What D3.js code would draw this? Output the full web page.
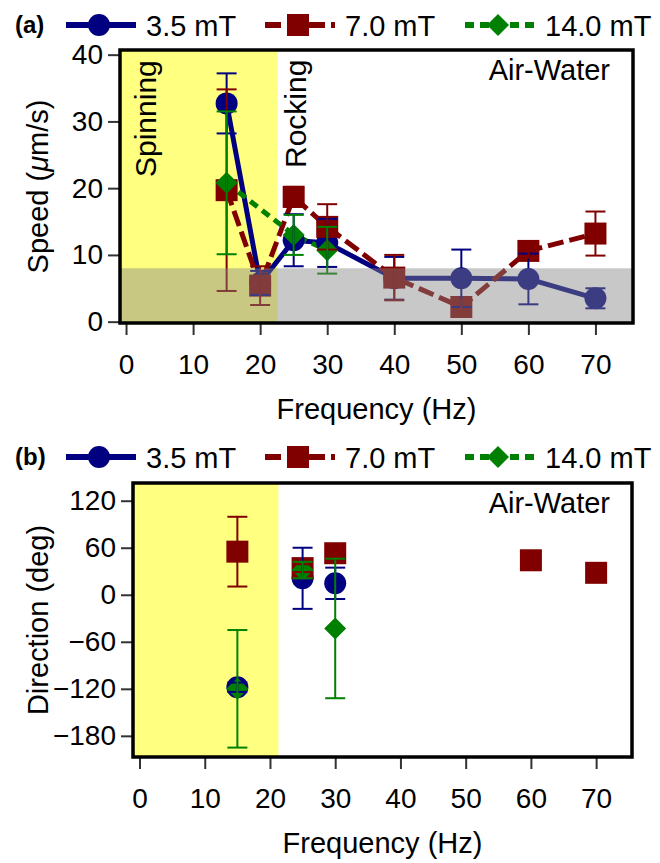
<!DOCTYPE html>
<html>
<head>
<meta charset="utf-8">
<script src="https://cdn.jsdelivr.net/npm/d3@7"></script>
<style>
  body { margin: 0; background: #fff; }
  svg { display: block; }
  .tick line { stroke: #333; stroke-width: 2; }
</style>
</head>
<body>
<div id="chart"></div>
<script>
// Panel (a): speed vs frequency
const freqA = [15, 20, 25, 30, 40, 50, 60, 70];
const speed35 = [32.7, 5.8, 12.2, 11.8, 6.5, 6.5, 6.4, 3.5];
const speed35Err = [4.5, 1.8, 3.9, 3.6, 3.2, 4.3, 3.8, 1.5];
const speed70 = [19.7, 5.4, 18.7, 14.2, 6.6, 2.2, 10.6, 13.2];
const speed70Err = [15.1, 2.9, 1.5, 3.4, 3.4, 1.0, 1.0, 3.3];
const freqA140 = [15, 25, 30];
const speed140 = [20.8, 13.0, 10.7];
const speed140Err = [10.7, 3.0, 3.5];

// Panel (b): direction vs frequency
const freqB35 = [15, 25, 30];
const dir35 = [-118, 21, 14.6];
const dir35Err = [6, 39, 20];
const freqB70 = [15, 25, 30, 60, 70];
const dir70 = [55, 34, 53, 44, 28];
const dir70Err = [44.5, 5, 5, 4, 4];
const freqB140 = [15, 25, 30];
const dir140 = [-120, 31.5, -43];
const dir140Err = [75, 10.5, 89];

const xTicks = [0, 10, 20, 30, 40, 50, 60, 70];
const yTicksA = [0, 10, 20, 30, 40];
const yTicksB = [-180, -120, -60, 0, 60, 120];
const seriesNames = ['3.5 mT', '7.0 mT', '14.0 mT'];

const colors = ['#000080', '#800000', '#008000'];
const dashes = [null, '16,6', '9,6'];
const font = '"Liberation Sans", Arial, sans-serif';

const svg = d3.select('#chart').append('svg')
    .attr('width', 660)
    .attr('height', 863)
    .style('font-family', font);

function zip(xs, ys, es) {
    return xs.map((x, i) => ({ x: x, y: ys[i], e: es[i] }));
}

function marker(g, k, x, y) {
    if (k === 0) {
        g.append('circle').attr('cx', x).attr('cy', y).attr('r', 11).attr('fill', colors[0]);
    } else if (k === 1) {
        g.append('rect').attr('x', x - 11).attr('y', y - 11).attr('width', 22).attr('height', 22).attr('fill', colors[1]);
    } else {
        g.append('path').attr('transform', `translate(${x},${y})`)
            .attr('d', 'M0,-11L11,0L0,11L-11,0Z').attr('fill', colors[2]);
    }
}

function legend(oy, label) {
    const g = svg.append('g').attr('transform', `translate(0,${oy})`);
    g.append('text').attr('x', 15).attr('y', 33)
        .attr('font-weight', 'bold').attr('font-size', 24)
        .text(label);
    const starts = [66, 265, 465];
    starts.forEach((sx, k) => {
        g.append('line').attr('x1', sx).attr('x2', sx + 70).attr('y1', 25).attr('y2', 25)
            .attr('stroke', colors[k]).attr('stroke-width', 6)
            .attr('stroke-dasharray', dashes[k]);
        marker(g, k, sx + 33, 25);
        g.append('text').attr('x', sx + 80).attr('y', 36)
            .attr('font-size', 29)
            .text(seriesNames[k]);
    });
}

function panel(opts) {
    const { x, y, series, lines, yTicks, yellowTo, grayTo, yTitle } = opts;
    const [left, right] = x.range();
    const [bottom, top] = y.range();
    const g = svg.append('g');

    g.append('rect').attr('x', left).attr('y', top)
        .attr('width', x(yellowTo) - left).attr('height', bottom - top)
        .attr('fill', '#ffff80');

    // lines
    if (lines) {
        series.forEach((s, k) => {
            g.append('path').datum(s)
                .attr('fill', 'none')
                .attr('stroke', colors[k])
                .attr('stroke-width', 5)
                .attr('stroke-dasharray', dashes[k])
                .attr('d', d3.line().x(d => x(d.x)).y(d => y(d.y)));
        });
    }
    // markers
    series.forEach((s, k) => {
        s.forEach(d => marker(g, k, x(d.x), y(d.y)));
    });
    // error bars
    series.forEach((s, k) => {
        const eb = g.append('g').attr('stroke', colors[k]).attr('stroke-width', 2);
        s.forEach(d => {
            const cx = x(d.x);
            eb.append('line').attr('x1', cx).attr('x2', cx)
                .attr('y1', y(d.y + d.e)).attr('y2', y(d.y - d.e));
            [d.y + d.e, d.y - d.e].forEach(v => {
                eb.append('line').attr('x1', cx - 10).attr('x2', cx + 10)
                    .attr('y1', y(v)).attr('y2', y(v));
            });
        });
    });

    if (grayTo !== null) {
        g.append('rect').attr('x', left).attr('y', y(grayTo))
            .attr('width', right - left).attr('height', bottom - y(grayTo))
            .attr('fill', '#858585').attr('fill-opacity', 0.45);
    }

    // axes
    g.append('g').attr('transform', `translate(${left},0)`)
        .call(d3.axisLeft(y).tickValues(yTicks).tickSize(12).tickPadding(5)
            .tickFormat(d => d < 0 ? '\u2212' + Math.abs(d) : d))
        .call(a => a.select('.domain').remove());
    g.append('g').attr('transform', `translate(0,${bottom})`)
        .call(d3.axisBottom(x).tickValues(xTicks).tickSize(12).tickPadding(19))
        .call(a => a.select('.domain').remove());
    g.selectAll('.tick text').attr('font-family', font).attr('font-size', 28).attr('fill', '#000');

    g.append('rect').attr('x', left).attr('y', top)
        .attr('width', right - left).attr('height', bottom - top)
        .attr('fill', 'none').attr('stroke', '#000').attr('stroke-width', 3.5);

    g.append('text').attr('x', 610).attr('y', top + 30)
        .attr('text-anchor', 'end')
        .attr('font-size', 29)
        .text('Air-Water');

    g.append('text').attr('x', (left + right) / 2).attr('y', bottom + 96)
        .attr('text-anchor', 'middle')
        .attr('font-size', 29)
        .text('Frequency (Hz)');

    const yt = g.append('text')
        .attr('transform', `translate(48,${(top + bottom) / 2}) rotate(-90)`)
        .attr('text-anchor', 'middle')
        .attr('font-size', 29);
    yTitle(yt);
    return g;
}

legend(0, '(a)');
const xA = d3.scaleLinear().domain([-0.9, 75.6]).range([120, 633]);
const yA = d3.scaleLinear().domain([-0.2, 40.7]).range([323, 50]);
const gA = panel({
    x: xA, y: yA,
    series: [zip(freqA, speed35, speed35Err), zip(freqA, speed70, speed70Err), zip(freqA140, speed140, speed140Err)],
    lines: true, yTicks: yTicksA, yellowTo: 22.6, grayTo: 8,
    yTitle: t => {
        t.append('tspan').text('Speed (');
        t.append('tspan').attr('font-style', 'italic').text('\u03bc');
        t.append('tspan').text('m/s)');
    }
});
gA.append('text').attr('transform', 'translate(156,177) rotate(-90)')
    .attr('font-size', 30).text('Spinning');
gA.append('text').attr('transform', 'translate(306,168) rotate(-90)')
    .attr('font-size', 30).text('Rocking');

legend(432, '(b)');
const xB = d3.scaleLinear().domain([-1.0, 75.5]).range([133, 632]);
const yB = d3.scaleLinear().domain([-207, 142.6]).range([757, 483]);
panel({
    x: xB, y: yB,
    series: [zip(freqB35, dir35, dir35Err), zip(freqB70, dir70, dir70Err), zip(freqB140, dir140, dir140Err)],
    lines: false, yTicks: yTicksB, yellowTo: 21.3, grayTo: null,
    yTitle: t => t.text('Direction (deg)')
});
</script>
</body>
</html>
